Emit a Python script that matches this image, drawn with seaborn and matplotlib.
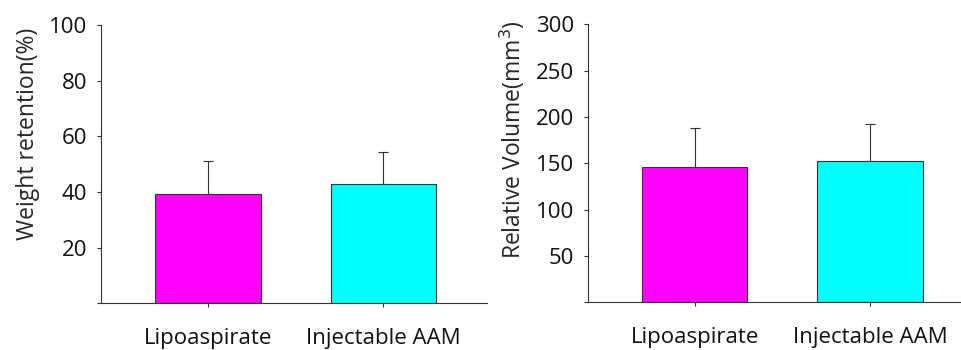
import numpy as np
import pandas as pd
import seaborn as sns
import matplotlib.pyplot as plt

# Data
groups = ['Lipoaspirate', 'Injectable AAM']
weight_mean = [39.4, 42.9]
weight_sd = [11.9, 11.3]
volume_mean = [146.5, 152.3]
volume_sd = [41.0, 40.2]
bar_colors = ['#FF00FF', '#00FFFF']

sns.set_style('ticks')
plt.rcParams['font.family'] = ['Open Sans', 'DejaVu Sans']
plt.rcParams['axes.edgecolor'] = '#333333'
plt.rcParams['xtick.color'] = '#333333'
plt.rcParams['ytick.color'] = '#333333'
plt.rcParams['text.color'] = '#111111'

fig = plt.figure(figsize=(9.62, 3.5), dpi=100)
ax1 = fig.add_axes([0.105, 0.134, 0.401, 0.794])
ax2 = fig.add_axes([0.611, 0.136, 0.389, 0.795])


def draw_panel(ax, means, sds, ymax, yticks, ylabel, xmax, label_xy):
    df = pd.DataFrame({'group': groups, 'value': means})
    sns.barplot(data=df, x='group', y='value', hue='group', palette=bar_colors,
                width=0.6, edgecolor='#333333', linewidth=0.8, errorbar=None,
                legend=False, ax=ax, saturation=1)
    ax.errorbar(range(len(groups)), means, yerr=[np.zeros(len(sds)), sds],
                fmt='none', ecolor='#333333', elinewidth=0.8, capsize=3.5,
                capthick=0.8, zorder=0)
    ax.set_ylim(0, ymax)
    ax.set_xlim(-0.61, xmax)
    ax.set_yticks([0] + yticks)
    ax.set_yticklabels([''] + [str(t) for t in yticks])
    ax.tick_params(axis='y', length=3, width=0.8, labelsize=16, pad=7,
                   labelcolor='#111111')
    ax.tick_params(axis='x', length=3, width=0.8, labelsize=16, pad=15,
                   labelcolor='#111111')
    ax.set_xlabel('')
    ax.set_ylabel(ylabel, fontsize=16.5, va='center')
    ax.yaxis.set_label_coords(*label_xy)
    sns.despine(ax=ax)
    for s in ['left', 'bottom']:
        ax.spines[s].set_linewidth(0.8)


draw_panel(ax1, weight_mean, weight_sd, 100, [20, 40, 60, 80, 100],
           'Weight retention(%)', 1.59, (-0.19, 0.608))
draw_panel(ax2, volume_mean, volume_sd, 300, [50, 100, 150, 200, 250, 300],
           'Relative Volume(mm$^3$)', 1.525, (-0.202, 0.587))

fig.savefig('out.png', dpi=100)
